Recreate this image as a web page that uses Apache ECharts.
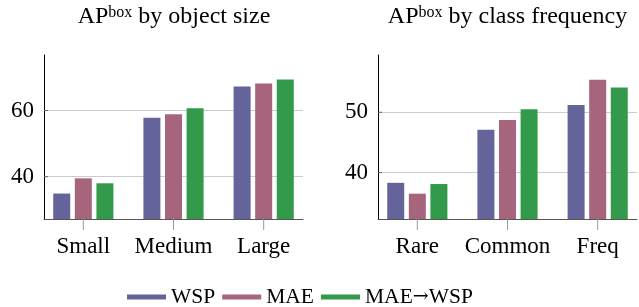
<!DOCTYPE html>
<html lang="en">
<head>
    <meta charset="UTF-8">
    <script type="text/javascript" src="https://cdn.jsdelivr.net/npm/echarts@6/dist/echarts.min.js"></script>
    <title>AP box</title>
    <style>
        html, body { margin: 0; padding: 0; background: #fff; }
        #main { width: 639px; height: 307px; }
    </style>
</head>
<body>
<div id="main"></div>

<script type="text/javascript">
    // 两个子图的类别
    var sizeCats = ['Small', 'Medium', 'Large'];
    var freqCats = ['Rare', 'Common', 'Freq'];
    var seriesNames = ['WSP', 'MAE', 'MAE→WSP'];
    var colors = ['#64649a', '#a6657d', '#339a4c'];

    // AP by object size
    var sizeWSP = [34.9, 57.8, 67.3];
    var sizeMAE = [39.5, 58.9, 68.2];
    var sizeMAE2WSP = [38.0, 60.7, 69.4];

    // AP by class frequency
    var freqWSP = [38.3, 47.1, 51.2];
    var freqMAE = [36.5, 48.7, 55.4];
    var freqMAE2WSP = [38.1, 50.5, 54.1];

    var catPos = [0, 1, 2];
    var sizeTicks = [40, 60];
    var freqTicks = [40, 50];
    var sizeRange = [27.2, 76.8];
    var freqRange = [32.3, 59.5];
    var xRange = [-0.436, 2.436];

    var font = 'Liberation Serif';

    function toPoints(arr) {
        return arr.map(function (v, i) { return [catPos[i], v]; });
    }

    function makeX(idx, cats) {
        return {
            type: 'value',
            gridIndex: idx,
            min: xRange[0],
            max: xRange[1],
            splitLine: {show: false},
            axisLine: {onZero: false, lineStyle: {color: '#555', width: 1}},
            axisTick: {show: false, customValues: catPos},
            axisLabel: {
                customValues: catPos,
                formatter: function (v) { return cats[Math.round(v)]; },
                fontFamily: font,
                fontSize: 23,
                color: '#000',
                margin: 16
            }
        };
    }

    function makeY(idx, range, ticks) {
        return {
            type: 'value',
            gridIndex: idx,
            min: range[0],
            max: range[1],
            axisLine: {show: true, onZero: false, lineStyle: {color: '#000', width: 1}},
            axisTick: {show: false, customValues: ticks},
            splitLine: {show: true, lineStyle: {color: '#cccccc', width: 1}},
            axisLabel: {
                customValues: ticks,
                fontFamily: font,
                fontSize: 23,
                color: '#000',
                margin: 10
            }
        };
    }

    // 刻度线放在窄条 grid 里，用折线画
    function hiddenAxis(idx, range) {
        return {type: 'value', gridIndex: idx, min: range[0], max: range[1], show: false};
    }
    function tickSeries(idx, pts, vertical, color) {
        var data = [];
        pts.forEach(function (p) {
            if (vertical) {
                data.push([p, 0], [p, 1], [p, '-']);
            } else {
                data.push([0, p], [1, p], ['-', p]);
            }
        });
        return {
            type: 'line', xAxisIndex: idx, yAxisIndex: idx, data: data,
            symbol: 'none', silent: true, connectNulls: false,
            lineStyle: {color: color, width: 1}
        };
    }

    var groups = [
        [sizeWSP, sizeMAE, sizeMAE2WSP],
        [freqWSP, freqMAE, freqMAE2WSP]
    ];

    var series = [];
    groups.forEach(function (g, gi) {
        g.forEach(function (vals, si) {
            series.push({
                name: seriesNames[si],
                type: 'bar',
                xAxisIndex: gi,
                yAxisIndex: gi,
                barWidth: 17,
                barGap: '27%',
                itemStyle: {color: colors[si]},
                data: toPoints(vals)
            });
        });
    });
    series.push(tickSeries(2, catPos, true, '#999'));
    series.push(tickSeries(3, catPos, true, '#999'));
    series.push(tickSeries(4, sizeTicks, false, '#666'));
    series.push(tickSeries(5, freqTicks, false, '#666'));

    var titleStyle = {
        fontFamily: font,
        fontSize: 24,
        fontWeight: 'normal',
        color: '#000',
        rich: {
            s: {fontFamily: font, fontSize: 16, verticalAlign: 'top', color: '#000'}
        }
    };

    var myChart = echarts.init(document.getElementById('main'));
    var option = {
        backgroundColor: '#fff',
        animation: false,
        textStyle: {fontFamily: font},
        title: [
            {text: 'AP{s|box} by object size', left: 169, top: 0, textAlign: 'center', textStyle: titleStyle},
            {text: 'AP{s|box} by class frequency', left: 502.5, top: 0, textAlign: 'center', textStyle: titleStyle}
        ],
        legend: {
            data: seriesNames,
            icon: 'rect',
            itemWidth: 39,
            itemHeight: 5,
            itemGap: 7,
            left: 122,
            top: 281,
            formatter: function (name) {
                return name.replace('→', '{a|→}');
            },
            textStyle: {
                fontFamily: font, fontSize: 21.5, color: '#000',
                rich: {a: {fontFamily: 'DejaVu Serif', fontSize: 19, color: '#000'}}
            }
        },
        grid: [
            {left: 44, top: 55, width: 259, height: 164},
            {left: 378, top: 55, width: 259, height: 164},
            {left: 44, top: 219, width: 259, height: 11},
            {left: 378, top: 219, width: 259, height: 11},
            {left: 44, top: 55, width: 4, height: 164},
            {left: 378, top: 55, width: 4, height: 164}
        ],
        xAxis: [makeX(0, sizeCats), makeX(1, freqCats),
            hiddenAxis(2, xRange), hiddenAxis(3, xRange), hiddenAxis(4, [0, 1]), hiddenAxis(5, [0, 1])],
        yAxis: [makeY(0, sizeRange, sizeTicks), makeY(1, freqRange, freqTicks),
            hiddenAxis(2, [0, 1]), hiddenAxis(3, [0, 1]), hiddenAxis(4, sizeRange), hiddenAxis(5, freqRange)],
        series: series
    };
    myChart.setOption(option);
</script>
</body>
</html>
